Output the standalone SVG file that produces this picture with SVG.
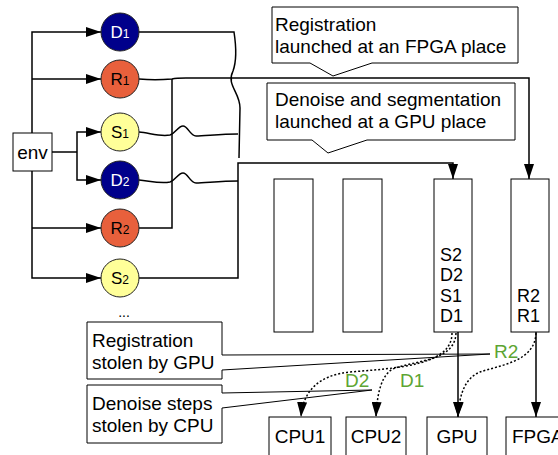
<svg xmlns="http://www.w3.org/2000/svg" width="558" height="455" viewBox="0 0 558 455">
  <defs>
    <marker id="arrow" markerUnits="userSpaceOnUse" markerWidth="15" markerHeight="10" refX="15" refY="5" orient="auto">
      <path d="M0,0 L15,5 L0,10 Z" fill="#000"/>
    </marker>
    <style>
      text { font-family: "Liberation Sans", Arial, sans-serif; fill: #000; }
      .box { fill: #fff; stroke: #000; stroke-width: 1; }
      .call { fill: #fff; stroke: #000; stroke-width: 1; }
      .wire { fill: none; stroke: #000; stroke-width: 1.5; }
      .wire-a { fill: none; stroke: #000; stroke-width: 1.5; marker-end: url(#arrow); }
      .steal { fill: none; stroke: #000; stroke-width: 1.5; stroke-dasharray: 2 2; marker-end: url(#arrow); }
      .lbl { font-size: 19px; }
      .col { font-size: 18px; }
      .green { font-size: 19px; fill: #5da532; }
      .task { stroke: #222; stroke-width: 1; }
      .d { fill: #00008b; }
      .r { fill: #e8603c; }
      .s { fill: #ffff99; }
      .big { font-size: 17px; }
      .sub { font-size: 12px; }
    </style>
  </defs>

  <!-- callouts (drawn first so the wires run over their pointers) -->
  <g id="note-fpga-launch">
    <path class="call" d="M272,7 H518 V63 H372 L333,76 L310,63 H272 Z"/>
    <text class="lbl" x="275" y="31">Registration</text>
    <text class="lbl" x="275" y="53">launched at an FPGA place</text>
  </g>
  <g id="note-gpu-launch">
    <path class="call" d="M267,83 H515 V140 H367 L328,153 L312,140 H267 Z"/>
    <text class="lbl" x="275" y="106">Denoise and segmentation</text>
    <text class="lbl" x="275" y="128">launched at a GPU place</text>
  </g>
  <g id="note-gpu-steal">
    <path class="call" d="M87,322 H222 V355 L490,354 L222,370 V379 H87 Z"/>
    <text class="lbl" x="92" y="347">Registration</text>
    <text class="lbl" x="92" y="369">stolen by GPU</text>
  </g>
  <g id="note-cpu-steal">
    <path class="call" d="M87,385 H222 V393 L372,390 L222,408 V443 H87 Z"/>
    <text class="lbl" x="92" y="410">Denoise steps</text>
    <text class="lbl" x="92" y="432">stolen by CPU</text>
  </g>

  <!-- connectors -->
  <g id="connectors">
    <!-- env fan-out -->
    <path class="wire-a" d="M32,133 V32 H101"/>
    <path class="wire-a" d="M32,79 H101"/>
    <path class="wire-a" d="M32,171 V278 H101"/>
    <path class="wire-a" d="M32,228 H101"/>
    <path class="wire" d="M52,152 H77"/>
    <path class="wire-a" d="M77,152 V132 H101"/>
    <path class="wire-a" d="M77,152 V180 H101"/>

    <!-- task outputs to places -->
    <path class="wire" d="M139,32 H234 C236,45 237,60 233,71 C226,85 240,92 240,108 L239,158"/>
    <path class="wire" d="M139,132 C150,133 160,137 170,135 C176,133 178,126 183,126 C188,126 190,136 196,136 C205,136 220,134 238,134"/>
    <path class="wire" d="M139,180 C150,181 160,184 170,182 C176,180 178,173 183,173 C188,173 190,183 196,183 C205,183 220,181 238,181"/>
    <path class="wire-a" d="M139,278 H238 V163 H453 V179"/>
    <path class="wire-a" d="M139,79 C150,80 160,80 172,79 C176,78 182,78 186,78 H529 V179"/>
    <path class="wire" d="M139,228 H172 V79"/>

    <!-- places to devices -->
    <path class="wire-a" d="M458,332 V417"/>
    <path class="wire-a" d="M536,332 V417"/>

    <!-- stolen work -->
    <path class="steal" d="M452,333 C452,365 400,368 350,372 C320,375 303,390 301,417"/>
    <path class="steal" d="M456,333 C455,360 420,360 395,368 C382,373 377,392 376,417"/>
    <path class="steal" d="M536,333 C535,362 500,365 480,372 C465,378 459,395 458,417"/>
  </g>

  <!-- environment -->
  <g id="env">
    <rect class="box" x="13" y="133" width="39" height="38"/>
    <text class="lbl" x="32.5" y="159" text-anchor="middle">env</text>
  </g>

  <!-- tasks -->
  <g id="task-d1">
    <circle class="task d" cx="120" cy="32" r="19"/>
    <text x="120" y="38" text-anchor="middle" style="fill:#fff"><tspan class="big">D</tspan><tspan class="sub">1</tspan></text>
  </g>
  <g id="task-r1">
    <circle class="task r" cx="120" cy="79" r="19"/>
    <text x="120" y="85" text-anchor="middle"><tspan class="big">R</tspan><tspan class="sub">1</tspan></text>
  </g>
  <g id="task-s1">
    <circle class="task s" cx="120" cy="132" r="19"/>
    <text x="120" y="138" text-anchor="middle"><tspan class="big">S</tspan><tspan class="sub">1</tspan></text>
  </g>
  <g id="task-d2">
    <circle class="task d" cx="120" cy="180" r="19"/>
    <text x="120" y="186" text-anchor="middle" style="fill:#fff"><tspan class="big">D</tspan><tspan class="sub">2</tspan></text>
  </g>
  <g id="task-r2">
    <circle class="task r" cx="120" cy="228" r="19"/>
    <text x="120" y="234" text-anchor="middle"><tspan class="big">R</tspan><tspan class="sub">2</tspan></text>
  </g>
  <g id="task-s2">
    <circle class="task s" cx="120" cy="278" r="19"/>
    <text x="120" y="284" text-anchor="middle"><tspan class="big">S</tspan><tspan class="sub">2</tspan></text>
  </g>
  <text x="124" y="317" text-anchor="middle" style="font-size:14px">...</text>

  <!-- place queues -->
  <g id="place-1"><rect class="box" x="274" y="179" width="39" height="153"/></g>
  <g id="place-2"><rect class="box" x="343" y="179" width="39" height="153"/></g>
  <g id="place-gpu">
    <rect class="box" x="434" y="179" width="38" height="153"/>
    <text class="col" x="440" y="261">S2</text>
    <text class="col" x="440" y="281">D2</text>
    <text class="col" x="440" y="302">S1</text>
    <text class="col" x="440" y="322">D1</text>
  </g>
  <g id="place-fpga">
    <rect class="box" x="511" y="179" width="38" height="153"/>
    <text class="col" x="517" y="302">R2</text>
    <text class="col" x="517" y="322">R1</text>
  </g>

  <!-- stolen task labels -->
  <text class="green" x="494" y="358">R2</text>
  <text class="green" x="345" y="387">D2</text>
  <text class="green" x="400" y="387">D1</text>

  <!-- devices -->
  <g id="dev-cpu1">
    <rect class="box" x="269" y="417" width="62" height="50"/>
    <text class="lbl" x="300" y="443" text-anchor="middle">CPU1</text>
  </g>
  <g id="dev-cpu2">
    <rect class="box" x="346" y="417" width="60" height="50"/>
    <text class="lbl" x="376" y="443" text-anchor="middle">CPU2</text>
  </g>
  <g id="dev-gpu">
    <rect class="box" x="427" y="417" width="60" height="50"/>
    <text class="lbl" x="457" y="443" text-anchor="middle">GPU</text>
  </g>
  <g id="dev-fpga">
    <rect class="box" x="506" y="417" width="62" height="50"/>
    <text class="lbl" x="512" y="443">FPGA</text>
  </g>
</svg>
